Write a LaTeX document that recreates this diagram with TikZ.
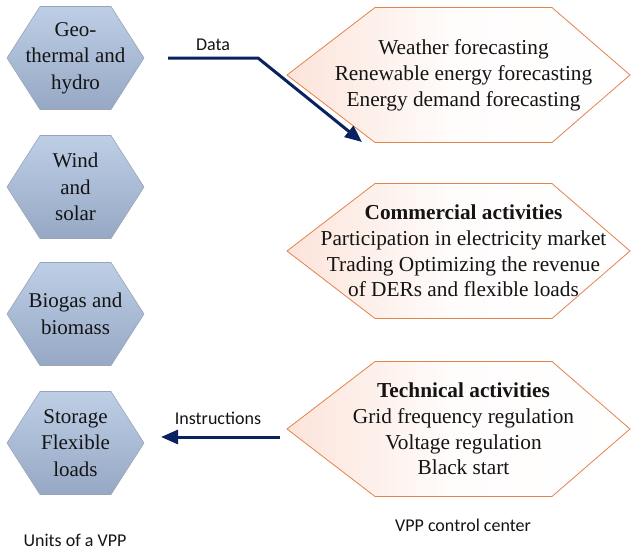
\documentclass[tikz,border=0pt]{standalone}
\usepackage{fontspec}
\setmainfont{Liberation Serif}
\newfontfamily\labelfont{Carlito}
\usetikzlibrary{arrows.meta}

\definecolor{unittop}{RGB}{190,206,230}
\definecolor{unitbottom}{RGB}{150,168,196}
\definecolor{unitedge}{RGB}{150,165,185}
\definecolor{ctrledge}{RGB}{228,130,75}
\definecolor{ctrltint}{RGB}{252,228,218}
\definecolor{flowblue}{RGB}{10,34,96}
\definecolor{inktext}{RGB}{20,20,20}

\tikzset{
  unitshape/.style={draw=unitedge, line width=0.6pt, top color=unittop, bottom color=unitbottom},
  ctrlshape/.style={draw=ctrledge, line width=0.8pt, left color=ctrltint, right color=white, middle color=white!92!ctrltint},
  unittext/.style={align=center, text=inktext, font=\fontsize{21}{26.5}\selectfont, inner sep=0pt},
  ctrltext/.style={align=center, text=inktext, font=\fontsize{21.3}{25.8}\selectfont, inner sep=0pt},
  tag/.style={text=inktext, font=\labelfont\fontsize{18}{20}\selectfont, inner sep=0pt},
  flow/.style={draw=flowblue, line width=3pt, -{Triangle[length=17pt,width=14pt]}},
}

% hexagon for a generating unit: centre x, centre y, node name, text
\newcommand\unithex[4]{%
  \path[unitshape] (#1-68.5,#2) -- (#1-35.5,#2-51.5) -- (#1+35.5,#2-51.5)
    -- (#1+68.5,#2) -- (#1+35.5,#2+51.5) -- (#1-35.5,#2+51.5) -- cycle;
  \node[unittext] (#3) at (#1,#2) {#4};}

% hexagon for a control-centre task: centre y, node name, text
\newcommand\ctrlhex[3]{%
  \path[ctrlshape] (287,#1) -- (375,#1-67.5) -- (552,#1-67.5)
    -- (630,#1) -- (552,#1+67.5) -- (375,#1+67.5) -- cycle;
  \node[ctrltext] (#2) at (463.5,#1) {#3};}

\begin{document}
\begin{tikzpicture}[x=1pt,y=-1pt]
  \useasboundingbox (0,0) rectangle (631,550);

  % units of the virtual power plant
  \unithex{75.5}{58}{geo}{Geo-\\thermal and\\hydro}
  \unithex{75.5}{187}{wind}{Wind\\and\\solar}
  \unithex{75.5}{314}{bio}{Biogas and\\biomass}
  \unithex{75.5}{443}{store}{Storage\\Flexible\\loads}

  % tasks of the control centre
  \ctrlhex{75}{fore}{Weather forecasting\\Renewable energy forecasting\\Energy demand forecasting}
  \ctrlhex{251}{comm}{\textbf{Commercial activities}\\Participation in electricity market\\Trading Optimizing the revenue\\of DERs and flexible loads}
  \ctrlhex{429}{tech}{\textbf{Technical activities}\\Grid frequency regulation\\Voltage regulation\\Black start}

  % information flows
  \coordinate (datastart) at (168,58);
  \coordinate (databend) at (258,58);
  \coordinate (dataend) at (362,142);
  \draw[flow] (datastart) -- (databend) -- (dataend);
  \node[tag] (datalabel) at (213,45) {Data};

  \coordinate (inststart) at (280,437);
  \coordinate (instend) at (161,437);
  \draw[flow] (inststart) -- (instend);
  \node[tag] (instlabel) at (218,418) {Instructions};

  % captions
  \node[tag] (unitscap) at (75,540) {Units of a VPP};
  \node[tag] (ctrlcap) at (463,525) {VPP control center};
\end{tikzpicture}
\end{document}
